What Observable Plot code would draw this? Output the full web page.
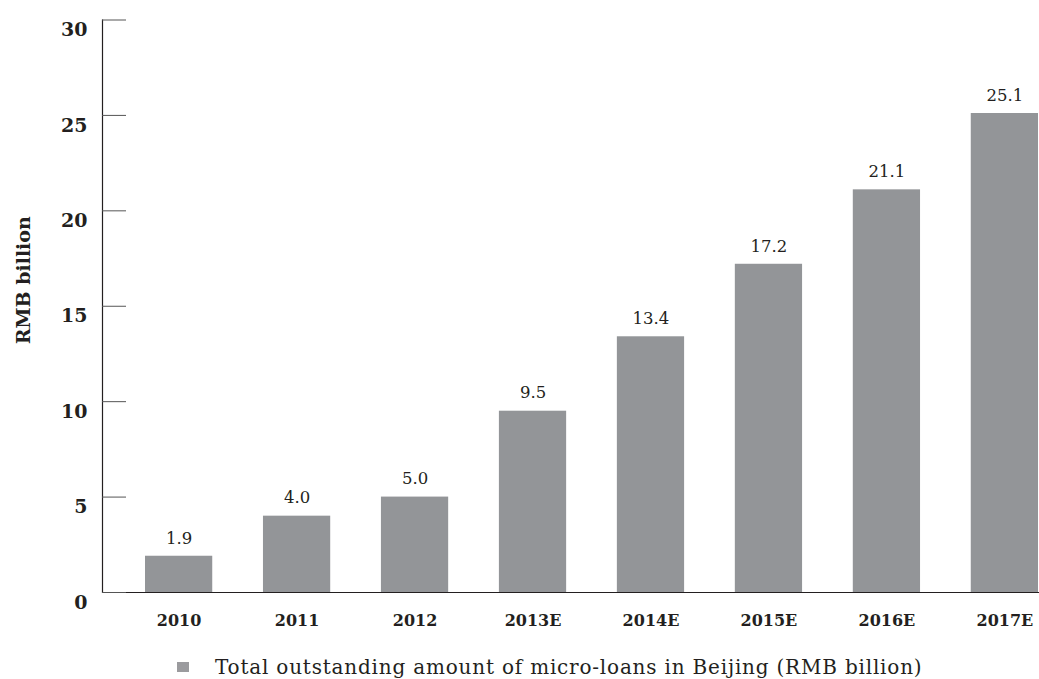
<!DOCTYPE html>
<html>
<head>
<meta charset="utf-8">
<script src="https://cdn.jsdelivr.net/npm/d3@7"></script>
<script src="https://cdn.jsdelivr.net/npm/@observablehq/plot@0.6"></script>
<style>
  html, body { margin: 0; padding: 0; background: #fff; }
  #wrap { position: relative; width: 1039px; height: 679px; font-family: "DejaVu Serif", "Liberation Serif", serif; }
  #legend { position: absolute; left: 177px; top: 654px; height: 26px; display: flex; align-items: center; font-size: 20px; letter-spacing: 0.8px; color: #231f20; white-space: nowrap; }
  #legend .sw { width: 12px; height: 10px; background: #9b9b9e; margin-right: 26px; }
</style>
</head>
<body>
<div id="wrap">
  <div id="chart"></div>
  <div id="legend"><span class="sw"></span><span id="legendText"></span></div>
</div>
<script>
const years = ["2010", "2011", "2012", "2013E", "2014E", "2015E", "2016E", "2017E"];
const amounts = [1.9, 4.0, 5.0, 9.5, 13.4, 17.2, 21.1, 25.1];
const yTicks = [0, 5, 10, 15, 20, 25, 30];
const seriesName = "Total outstanding amount of micro-loans in Beijing (RMB billion)";
const yTitle = "RMB billion";

const data = years.map((y, i) => ({year: y, value: amounts[i]}));
document.getElementById("legendText").textContent = seriesName;

const chart = Plot.plot({
  width: 1039,
  height: 640,
  marginLeft: 102,
  marginRight: 0,
  marginTop: 19.5,
  marginBottom: 48,
  style: {fontFamily: '"DejaVu Serif", "Liberation Serif", serif', color: "#231f20", background: "#fff"},
  x: {domain: years, range: [145, 1038], paddingInner: 0.43, paddingOuter: 0, round: false, label: null},
  y: {domain: [0, 30], label: null},
  marks: [
    Plot.barY(data, {x: "year", y: "value", fill: "#939598"}),
    Plot.text(data, {x: "year", y: "value", text: d => d.value.toFixed(1), dy: -18, fontSize: 16.5, fill: "#231f20"}),
    Plot.ruleY([0], {stroke: "#231f20", strokeWidth: 1.2}),
    Plot.frame({anchor: "left", stroke: "#231f20", strokeWidth: 1.2}),
    Plot.axisY(yTicks, {anchor: "left", tickSize: -24, tickFormat: () => "", stroke: "#555", label: null}),
    Plot.axisY(yTicks, {anchor: "left", tickSize: 0, tickPadding: 15, dy: 10, fontSize: 19, fontWeight: "bold", fill: "#231f20", label: null}),
    Plot.axisX({anchor: "bottom", tickSize: 0, tickPadding: 22, fontSize: 16, fontWeight: "bold", fill: "#231f20", label: null}),
    Plot.text([yTitle], {frameAnchor: "left", textAnchor: "middle", rotate: -90, dx: -79, dy: -26, fontSize: 19, fontWeight: "bold", fill: "#231f20"})
  ]
});
document.getElementById("chart").appendChild(chart);
</script>
</body>
</html>
